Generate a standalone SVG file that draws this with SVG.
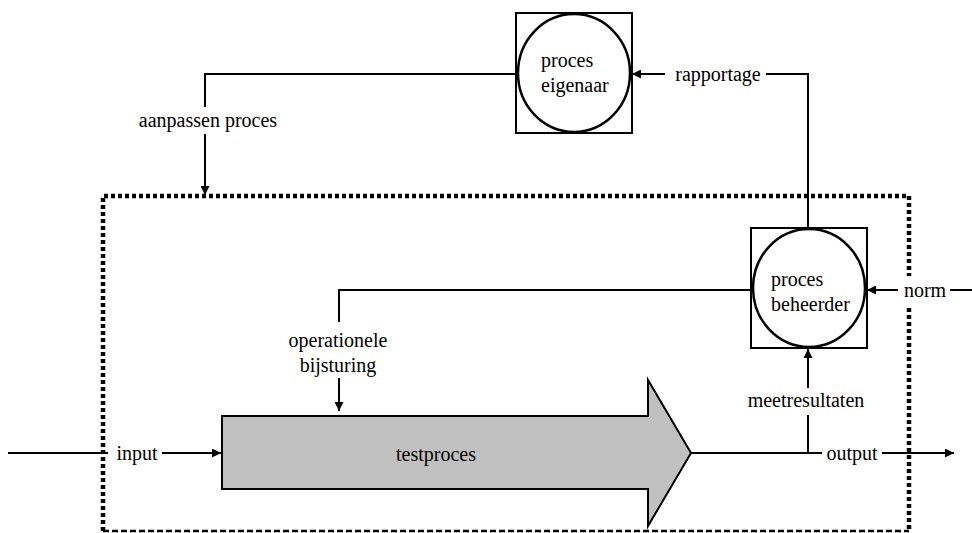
<svg xmlns="http://www.w3.org/2000/svg" width="972" height="533" viewBox="0 0 972 533">
<style>
text{font-family:"Liberation Serif","Tinos","Times New Roman","DejaVu Serif",serif;font-size:20px;fill:#000}
.ln{fill:none;stroke:#000;stroke-width:2}
.box{fill:#fff;stroke:#000;stroke-width:2}
.c{fill:#fff;stroke:#000;stroke-width:2.5}
</style>
<defs>
<marker id="ah" viewBox="0 0 10 10" refX="10" refY="5" markerWidth="12" markerHeight="9" markerUnits="userSpaceOnUse" orient="auto">
<path d="M0 0L10 5L0 10z" fill="#000"/>
</marker>
</defs>
<g id="boundary">
<path d="M103 531V196H909V531" fill="none" stroke="#000" stroke-width="4.5" stroke-dasharray="4 3"/>
<path d="M103 531H909" fill="none" stroke="#000" stroke-width="2.5" stroke-dasharray="6 3"/>
</g>
<g id="connectors">
<path class="ln" d="M516 74H205V107"/>
<path class="ln" d="M205 134V195" marker-end="url(#ah)"/>
<path class="ln" d="M808 228V74H766"/>
<path class="ln" d="M665 74H632" marker-end="url(#ah)"/>
<path class="ln" d="M751 290H339V322"/>
<path class="ln" d="M339 378V411" marker-end="url(#ah)"/>
<rect x="898" y="276" width="52" height="30" fill="#fff"/>
<path class="ln" d="M972 290H950"/>
<path class="ln" d="M898 290H867" marker-end="url(#ah)"/>
<path class="ln" d="M808 453V415"/>
<path class="ln" d="M808 388V349" marker-end="url(#ah)"/>
<path class="ln" d="M8 453H108"/>
<path class="ln" d="M162 453H221" marker-end="url(#ah)"/>
<path class="ln" d="M691 453H822"/>
<path class="ln" d="M882 453H954" marker-end="url(#ah)"/>
<text x="208" y="127" text-anchor="middle" font-family="Liberation Serif, serif">aanpassen proces</text>
<text x="718" y="81" text-anchor="middle" font-family="Liberation Serif, serif">rapportage</text>
<text x="925" y="297" text-anchor="middle" font-family="Liberation Serif, serif">norm</text>
<text x="338" y="347" text-anchor="middle" font-family="Liberation Serif, serif">operationele</text>
<text x="338" y="372" text-anchor="middle" font-family="Liberation Serif, serif">bijsturing</text>
<text x="806" y="407" text-anchor="middle" font-family="Liberation Serif, serif">meetresultaten</text>
<text x="137" y="460" text-anchor="middle" font-family="Liberation Serif, serif">input</text>
<text x="852" y="460" text-anchor="middle" font-family="Liberation Serif, serif">output</text>
</g>
<g id="proces-eigenaar">
<rect class="box" x="516" y="13" width="116" height="120"/>
<ellipse class="c" cx="574" cy="73" rx="56" ry="59"/>
<text x="541" y="67" font-family="Liberation Serif, serif">proces</text>
<text x="541" y="92" font-family="Liberation Serif, serif">eigenaar</text>
</g>
<g id="proces-beheerder">
<rect class="box" x="751" y="228" width="116" height="120"/>
<ellipse class="c" cx="809" cy="288" rx="56" ry="59"/>
<text x="771" y="286" font-family="Liberation Serif, serif">proces</text>
<text x="771" y="311" font-family="Liberation Serif, serif">beheerder</text>
</g>
<g id="testproces">
<path d="M222 416H648V380L691 453L648 526V489H222Z" fill="#c0c0c0" stroke="#000" stroke-width="2"/>
<text x="436" y="461" text-anchor="middle" font-family="Liberation Serif, serif">testproces</text>
</g>
</svg>
